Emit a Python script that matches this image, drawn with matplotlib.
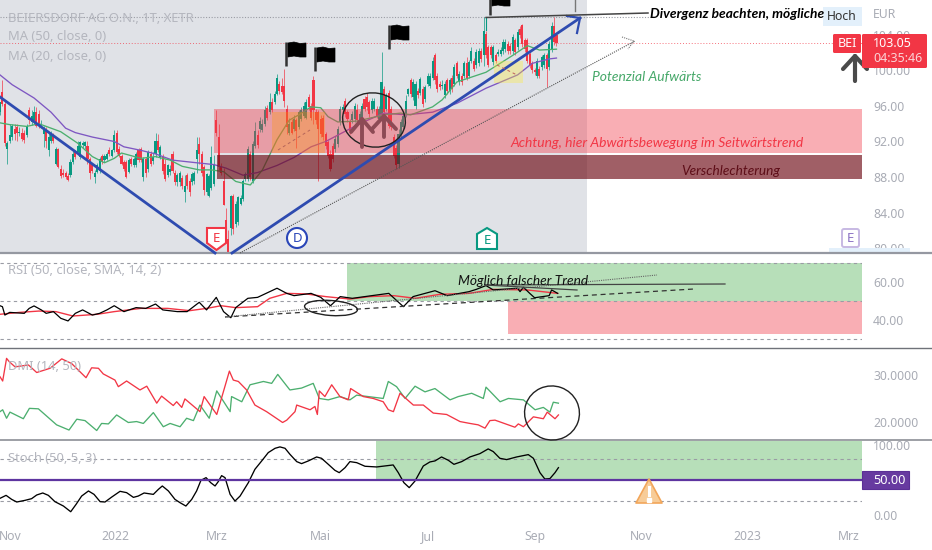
"""
Beiersdorf daily chart with RSI, DMI and Stoch panels and hand drawn markup.
"""
import numpy as np
import matplotlib
matplotlib.use("Agg")
import matplotlib.pyplot as plt
from matplotlib.patches import Ellipse, Polygon, Rectangle, FancyBboxPatch

WIDTH, HEIGHT = 932, 550
BAR_PX = 2.43           # pixels per trading day
PLOT_RIGHT = 862
GREY_RIGHT = 587

GREEN = "#089981"
RED = "#F23645"
TICK = "#A9ACB5"

opens = [
    95.3, 97.6, 96.2, 91.2, 92.0, 92.5, 93.4, 93.6, 93.0, 93.0,
    93.0, 92.7, 95.5, 94.2, 94.4, 95.3, 95.1, 93.9, 92.8, 93.3,
    91.0, 92.0, 92.7, 89.5, 91.2, 88.9, 88.4, 88.5, 88.1, 88.2,
    89.7, 90.8, 90.8, 90.3, 91.6, 91.5, 91.5, 90.0, 89.3, 88.0,
    88.6, 88.7, 90.4, 89.9, 90.0, 91.0, 90.4, 91.0, 93.0, 91.2,
    90.4, 89.7, 89.7, 88.6, 90.0, 89.3, 89.3, 91.0, 91.2, 88.0,
    90.0, 88.9, 90.6, 89.8, 90.6, 92.0, 90.2, 90.2, 89.5, 88.2,
    88.6, 90.6, 88.5, 87.4, 87.4, 87.9, 86.3, 88.2, 87.6, 87.4,
    87.5, 90.0, 91.7, 90.6, 89.1, 86.3, 85.9, 86.8, 87.2, 94.4,
    92.5, 89.1, 87.6, 83.1, 81.0, 82.3, 85.9, 82.7, 82.9, 85.0,
    85.5, 87.8, 87.8, 90.6, 87.6, 91.5, 92.7, 93.4, 93.3, 94.0,
    95.8, 95.3, 96.4, 96.4, 97.4, 98.5, 98.3, 98.3, 95.7, 93.0,
    94.2, 93.4, 94.4, 93.6, 94.5, 94.9, 94.7, 97.0, 96.0, 98.9,
    95.3, 95.3, 94.5, 94.7, 92.8, 91.9, 90.6, 91.5, 91.1, 91.7,
    94.2, 95.5, 96.6, 95.3, 94.2, 94.4, 94.5, 95.5, 94.4, 94.5,
    96.8, 97.0, 96.4, 95.5, 95.7, 95.7, 94.5, 94.7, 97.9, 95.7,
    97.5, 95.7, 92.5, 91.3, 89.5, 92.7, 93.6, 95.1, 97.4, 98.9,
    97.0, 96.0, 97.7, 97.5, 97.9, 96.8, 98.5, 98.3, 99.2, 101.7,
    99.4, 98.5, 98.2, 97.2, 98.9, 97.7, 99.2, 98.5, 100.8, 98.7,
    99.4, 99.4, 100.8, 99.4, 101.1, 101.1, 100.6, 100.8, 102.2, 101.7,
    104.1, 102.6, 102.6, 100.9, 101.7, 101.9, 101.9, 102.2, 102.4, 103.0,
    102.8, 102.2, 103.4, 102.6, 104.7, 105.1, 103.4, 103.4, 101.9, 100.8,
    100.0, 99.4, 100.2, 100.4, 100.6, 101.7, 100.4, 102.4, 105.0, 104.0]
closes = [
    96.4, 96.2, 91.8, 91.8, 92.7, 93.8, 92.9, 93.0, 93.1, 92.3,
    92.2, 93.8, 94.4, 94.9, 95.3, 93.8, 93.8, 94.0, 93.3, 92.1,
    92.5, 92.7, 92.0, 91.2, 89.1, 88.1, 88.2, 88.0, 87.7, 89.7,
    90.6, 90.2, 91.5, 91.9, 91.8, 91.9, 90.0, 88.4, 88.7, 88.5,
    89.3, 90.0, 89.7, 90.4, 90.6, 90.6, 91.0, 92.7, 90.8, 90.4,
    89.5, 88.9, 88.0, 89.9, 89.5, 90.0, 90.6, 89.9, 89.9, 90.0,
    88.4, 90.8, 89.5, 90.3, 92.1, 91.0, 91.4, 88.7, 87.8, 89.3,
    88.9, 88.7, 87.4, 88.2, 88.4, 87.0, 87.0, 87.0, 86.3, 88.3,
    88.4, 91.0, 90.6, 88.4, 86.5, 88.3, 88.1, 90.2, 89.5, 93.0,
    89.1, 88.4, 84.9, 82.3, 79.4, 85.9, 82.1, 85.0, 85.7, 85.6,
    87.6, 88.3, 91.2, 88.0, 91.7, 93.2, 91.6, 94.3, 94.0, 95.5,
    94.7, 96.4, 95.5, 97.4, 99.2, 97.7, 97.6, 96.6, 93.6, 94.0,
    93.0, 94.5, 93.2, 95.3, 95.5, 96.0, 96.4, 95.9, 94.7, 95.5,
    94.4, 93.4, 92.8, 92.5, 91.5, 90.4, 88.9, 90.0, 92.3, 93.4,
    95.7, 95.9, 95.1, 94.5, 93.2, 95.1, 96.0, 94.4, 95.1, 96.0,
    95.7, 95.9, 95.1, 96.6, 96.6, 94.9, 95.7, 98.7, 95.3, 97.2,
    93.8, 93.6, 90.4, 89.3, 92.8, 94.2, 94.9, 96.6, 97.9, 97.4,
    98.7, 98.5, 97.2, 99.0, 96.2, 98.1, 99.4, 99.4, 101.1, 98.9,
    97.9, 98.1, 98.4, 98.5, 97.7, 98.9, 97.9, 100.4, 99.4, 99.6,
    98.7, 100.8, 99.2, 100.9, 102.2, 100.2, 102.1, 102.2, 101.3, 104.5,
    101.7, 100.6, 101.7, 102.6, 101.1, 102.1, 102.3, 103.2, 103.2, 102.2,
    102.2, 103.8, 102.1, 104.3, 104.0, 103.0, 102.4, 101.1, 100.6, 100.0,
    99.8, 101.1, 99.4, 101.5, 101.7, 100.2, 103.0, 105.0, 103.2, 103.05]
highs = [
    96.5, 98.9, 96.6, 92.0, 94.0, 94.0, 94.0, 94.0, 93.6, 93.5,
    93.3, 94.0, 95.9, 95.5, 96.0, 95.9, 95.5, 94.4, 93.7, 93.6,
    93.0, 93.2, 93.0, 91.4, 91.3, 89.4, 88.9, 88.7, 88.4, 90.0,
    90.9, 91.0, 92.0, 92.1, 92.0, 92.0, 92.0, 90.3, 89.6, 88.8,
    89.6, 90.2, 90.6, 90.6, 90.8, 91.4, 91.2, 93.3, 93.3, 91.5,
    90.6, 89.9, 89.9, 90.1, 90.3, 90.2, 90.8, 91.3, 91.4, 90.2,
    90.2, 91.0, 90.9, 90.8, 93.0, 92.8, 91.6, 90.6, 90.0, 89.5,
    89.3, 90.9, 88.8, 88.5, 88.7, 88.2, 88.2, 88.4, 87.9, 88.6,
    88.7, 92.5, 92.5, 90.9, 89.4, 88.4, 88.3, 91.5, 90.5, 95.5,
    94.0, 89.6, 89.0, 84.5, 82.0, 86.0, 86.1, 85.3, 85.9, 86.0,
    87.8, 88.6, 91.5, 90.9, 92.0, 94.2, 93.3, 94.8, 94.5, 96.0,
    96.1, 97.5, 96.9, 97.7, 99.6, 98.8, 99.2, 100.2, 96.1, 94.6,
    94.5, 95.0, 94.7, 95.6, 95.9, 96.4, 96.8, 97.4, 96.3, 99.4,
    95.7, 95.6, 95.0, 95.0, 93.1, 92.2, 91.0, 91.8, 92.6, 93.7,
    96.0, 96.2, 96.9, 95.6, 94.5, 95.4, 96.3, 96.2, 95.4, 96.3,
    97.1, 97.5, 96.7, 96.9, 96.9, 96.0, 96.0, 102.1, 98.2, 97.5,
    97.8, 96.0, 92.8, 91.6, 93.4, 94.5, 95.2, 97.2, 98.0, 99.2,
    99.0, 98.8, 98.0, 99.3, 98.2, 98.4, 99.7, 99.7, 101.5, 102.0,
    99.7, 98.8, 98.9, 98.8, 99.2, 99.2, 99.5, 100.7, 101.1, 99.9,
    99.7, 101.1, 101.5, 101.2, 102.6, 101.4, 102.4, 102.5, 102.5, 106.0,
    104.4, 102.9, 102.9, 102.9, 102.0, 102.4, 102.6, 103.5, 103.5, 103.3,
    103.1, 104.1, 103.7, 104.7, 105.0, 105.2, 103.7, 103.7, 102.2, 101.1,
    100.3, 101.4, 100.5, 101.8, 102.0, 102.0, 103.3, 105.5, 106.0, 104.2]
lows = [
    95.0, 96.0, 91.5, 89.5, 91.8, 92.2, 92.2, 92.1, 92.6, 92.0,
    91.8, 92.5, 94.0, 93.9, 94.0, 93.6, 93.5, 93.5, 91.4, 91.3,
    90.4, 91.8, 91.8, 89.3, 89.0, 87.9, 88.0, 87.8, 87.6, 88.0,
    89.5, 90.0, 90.5, 90.0, 91.3, 91.2, 89.5, 87.8, 88.4, 87.3,
    88.4, 88.5, 89.5, 89.7, 89.9, 90.4, 90.2, 90.8, 90.6, 90.2,
    89.3, 88.7, 87.9, 88.4, 89.2, 89.1, 89.1, 89.7, 89.7, 87.6,
    88.0, 88.6, 89.2, 89.5, 90.3, 90.8, 90.0, 88.3, 87.5, 88.0,
    88.2, 88.4, 87.1, 87.0, 87.0, 86.6, 85.2, 86.7, 85.9, 87.1,
    87.2, 88.5, 89.5, 88.1, 86.0, 86.0, 85.7, 86.5, 87.0, 92.6,
    88.8, 88.2, 84.8, 80.7, 79.0, 81.5, 81.6, 82.4, 82.6, 84.8,
    85.3, 87.6, 87.6, 87.7, 87.3, 91.3, 91.3, 93.1, 93.1, 93.8,
    94.4, 95.1, 95.3, 96.2, 97.2, 97.4, 97.3, 95.9, 92.9, 92.7,
    92.8, 93.2, 91.3, 93.4, 94.3, 94.6, 94.5, 95.6, 94.4, 94.0,
    94.0, 87.6, 92.5, 92.2, 91.2, 90.1, 88.7, 89.7, 90.8, 91.4,
    93.9, 95.2, 94.8, 94.2, 92.9, 94.1, 94.2, 94.1, 94.1, 94.2,
    95.4, 95.6, 94.8, 95.2, 95.4, 94.6, 94.2, 94.4, 95.0, 95.4,
    93.5, 93.3, 90.1, 88.9, 89.0, 92.4, 93.3, 94.8, 97.1, 97.0,
    96.7, 95.7, 96.9, 97.2, 95.9, 96.5, 98.2, 98.0, 98.9, 98.5,
    97.6, 97.8, 97.9, 96.9, 97.4, 97.4, 97.6, 98.2, 99.1, 98.4,
    98.4, 99.1, 98.9, 99.1, 100.8, 99.9, 100.3, 100.5, 101.0, 100.5,
    101.4, 100.4, 101.4, 100.6, 100.8, 101.6, 101.6, 101.9, 102.1, 101.9,
    101.9, 101.9, 101.8, 102.3, 103.7, 102.7, 102.1, 100.8, 100.3, 99.7,
    99.5, 99.1, 99.1, 100.1, 100.3, 98.1, 100.1, 102.1, 102.9, 102.8]

ma50_bar = [0, 5, 14, 21, 27, 31, 38, 47, 51, 58, 64, 71, 81, 88, 93, 100, 106,
            114, 121, 128, 134, 141, 148, 158, 167, 178, 188, 200, 213, 219,
            226, 229]
ma50 = [99.5, 98.4, 96.9, 95.3, 93.5, 93.0, 92.5, 92.0, 91.4, 91.0, 90.6, 89.9,
        89.6, 89.4, 89.0, 88.2, 88.5, 89.3, 90.2, 91.4, 92.0, 93.0, 94.0, 95.2,
        95.0, 95.3, 96.3, 98.0, 99.5, 100.8, 101.3, 101.4]
ma20_bar = [0, 4, 11, 16, 21, 25, 32, 38, 43, 47, 50, 58, 64, 70, 75, 82, 87,
            92, 97, 103, 108, 114, 119, 123, 128, 132, 135, 139, 147, 158, 165,
            169, 178, 182, 188, 200, 211, 217, 222, 229]
ma20 = [94.1, 93.9, 93.7, 94.0, 93.5, 93.1, 91.8, 90.3, 89.6, 90.1, 90.7, 90.1,
        90.3, 89.9, 89.2, 88.8, 88.8, 88.6, 87.5, 87.1, 88.8, 92.2, 94.4, 95.0,
        95.9, 95.8, 94.8, 94.2, 94.3, 95.0, 95.2, 95.0, 95.9, 96.7, 98.7, 99.8,
        101.7, 102.8, 102.3, 102.4]

rsi_bar = [0, 1, 2, 4, 10, 12, 14, 17, 19, 22, 25, 28, 31, 34, 38, 41, 44, 47,
           51, 56, 60, 64, 67, 73, 77, 82, 85, 89, 92, 95, 97, 102, 106, 114,
           118, 121, 128, 132, 136, 140, 145, 153, 160, 163, 166, 170, 179,
           184, 193, 196, 200, 203, 213, 214, 215.4, 218, 220, 226, 227, 229.5]
rsi = [47.5, 47.0, 42.6, 44.0, 43.5, 46.1, 47.4, 45.3, 43.5, 44.4, 40.9, 39.5,
       43.5, 45.3, 42.6, 43.5, 45.3, 47.5, 44.4, 46.5, 46.1, 48.4, 45.3, 44.4,
       44.4, 49.3, 45.3, 51.9, 44.4, 41.2, 46.5, 51.4, 51.9, 56.7, 54.0, 52.8,
       54.0, 51.9, 47.5, 52.3, 51.4, 52.8, 54.0, 50.5, 47.0, 52.3, 55.4, 52.8,
       54.9, 56.1, 58.1, 55.8, 56.7, 54.9, 57.2, 54.0, 51.7, 52.8, 55.8, 54.0]
rsi_ma_bar = [0, 8, 16, 23, 30, 40, 47, 58, 69, 78, 85, 91, 97, 106, 111, 118,
              126, 134, 144, 152, 162, 171, 181, 193, 203, 217, 229.5]
rsi_ma = [43.0, 44.0, 44.7, 44.4, 42.1, 43.0, 44.4, 46.1, 46.1, 44.9, 46.1,
          47.5, 46.5, 47.0, 51.4, 54.0, 53.7, 52.3, 51.0, 52.3, 52.8, 51.4,
          53.5, 54.0, 56.1, 55.8, 54.0]

di_minus_bar = [0, 1.1, 2.7, 3.8, 6.2, 11.7, 15.1, 20.6, 24, 25.4, 29.5, 35.4,
                37.7, 40.5, 42.5, 47.3, 48.7, 52.1, 57.6, 60.4, 64.5, 66.5,
                71.3, 72.7, 74.8, 76.1, 82.3, 84, 89.2, 94.4, 96, 98.1, 101.5,
                104.9, 109.7, 116.3, 118, 121.4, 122.1, 127.6, 129.6, 130.6,
                131.4, 133.7, 136.5, 139.9, 143.3, 144.3, 149.5, 153.6, 157.7,
                159.8, 161.9, 164.6, 170.1, 174.2, 178.3, 183.8, 189.3, 193.4,
                196.8, 199.6, 201.6, 203.7, 211.9, 213.3, 215.4, 219.5, 223.6,
                225.2, 228.4, 229.8]
di_minus = [29.7, 28.8, 33.6, 32.9, 31.8, 32.2, 30.6, 31.5, 32.9, 33.5, 32.5,
            29.5, 31.6, 31.5, 30.3, 29.0, 27.6, 28.8, 26.9, 27.7, 24.1, 25.6,
            23.6, 24.4, 23.2, 25.0, 22.3, 25.5, 21.7, 30.9, 29.0, 28.7, 26.9,
            23.7, 22.3, 20.0, 20.5, 22.3, 23.7, 22.7, 23.4, 21.7, 26.7, 25.5,
            28.0, 25.5, 24.8, 27.2, 25.5, 25.1, 24.4, 22.7, 22.3, 26.2, 23.7,
            23.7, 22.0, 21.7, 20.2, 19.8, 19.5, 18.8, 20.4, 20.5, 19.0, 19.7,
            19.1, 21.2, 20.8, 22.2, 20.8, 21.6]
di_plus_bar = [0, 1.1, 2.7, 4.1, 9.6, 12.1, 15.8, 23.3, 28.4, 31.6, 35, 39.8,
               41.8, 44.6, 48, 52.8, 56.2, 59, 63.1, 67.2, 70, 74.1, 76.8,
               79.6, 82.3, 86.1, 89.2, 94.7, 95.3, 99.5, 102.9, 108.4, 111.8,
               114.3, 119.3, 124.1, 128.9, 131.4, 135.1, 139.9, 144, 146.8,
               157.7, 159.8, 163.2, 166.7, 170.8, 174.9, 179, 185.2, 188.6,
               194.1, 198.9, 200, 205.8, 209.2, 215.4, 220.2, 223.6, 226.3,
               227.7, 229.8]
di_plus = [22.3, 22.7, 20.9, 22.2, 20.8, 23.0, 22.9, 19.5, 18.4, 20.7, 20.4,
           18.3, 19.8, 19.7, 21.6, 20.0, 20.2, 19.8, 22.1, 19.1, 19.8, 19.1,
           20.9, 20.4, 23.7, 20.9, 26.7, 22.3, 25.5, 24.4, 28.0, 28.7, 28.3,
           30.2, 26.9, 27.3, 28.3, 25.1, 24.8, 25.5, 24.8, 25.8, 25.1, 28.7,
           27.6, 25.1, 27.7, 26.5, 27.2, 24.8, 25.5, 26.2, 25.1, 27.5, 24.4,
           25.1, 24.8, 22.7, 23.2, 22.2, 24.3, 24.1]

stoch_bar = [0, 2.5, 4.8, 6.9, 10.3, 13, 15.1, 17.6, 19.9, 22.6, 26.1, 29.1,
             31.3, 33.6, 36.4, 38.7, 41.2, 43.2, 46, 49.4, 52.1, 54.9, 56.9,
             59.3, 63.1, 65.2, 66.8, 69.3, 72, 74.1, 76.5, 78.9, 80.9, 82.7,
             84.8, 86.7, 88.5, 89.8, 91.2, 92.6, 94.7, 96.7, 98.8, 102.2,
             104.9, 107.7, 110.4, 113.2, 115.2, 117.3, 119.3, 122.1, 124.1,
             126.9, 130.3, 132.3, 135.1, 137.8, 139.6, 142, 144, 146.8, 150.2,
             155, 161.8, 163.9, 166.2, 168.4, 170.8, 174.2, 176.9, 179, 181.7,
             184.5, 186.8, 190, 193.4, 197.5, 200.9, 203, 205.7, 208.5, 212.6,
             217.4, 219.5, 222.2, 224.2, 226.3, 228.4, 229.8]
stoch = [23.3, 27.6, 21.8, 18.0, 20.4, 22.8, 28.1, 31.0, 27.6, 18.5, 12.2, 4.0,
         14.6, 26.6, 33.9, 29.0, 18.5, 18.0, 25.2, 33.4, 31.5, 24.7, 26.6, 31.0,
         29.0, 36.3, 41.1, 33.9, 21.8, 17.0, 12.2, 21.8, 33.9, 49.3, 53.1, 45.9,
         41.1, 47.3, 56.0, 53.1, 29.0, 19.4, 26.6, 45.9, 65.1, 77.2, 89.2, 95.4,
         97.4, 95.4, 86.8, 76.2, 73.3, 77.2, 82.9, 81.0, 72.3, 63.7, 60.3, 67.5,
         76.2, 74.7, 69.5, 68.5, 71.4, 60.3, 45.9, 38.7, 48.3, 69.9, 75.7, 77.2,
         82.9, 78.1, 72.3, 76.2, 82.9, 87.7, 94.5, 90.6, 81.0, 79.1, 82.9, 86.3,
         81.0, 60.3, 51.2, 51.7, 60.3, 67.5]

price_ticks = [84, 88, 92, 96, 100, 104, 80]
rsi_ticks = [40, 60]
dmi_ticks = [20, 30]
stoch_ticks = [0, 100]
month_labels = ["Nov", "2022", "Mrz", "Mai", "Jul", "Sep", "Nov", "2023", "Mrz"]
month_bars = [4.1, 47.3, 89.3, 131.7, 176, 220, 263.8, 307.4, 349.4]
price_last = 103.05

AXES_FONT = "Noto Sans"
NOTE_FONT = "Lato"


def panel(fig, top, bottom, ylim, ticks, fmt):
    """ one price pane, top and bottom are pixel rows of the figure
    """
    ax = fig.add_axes([0, 1 - bottom / HEIGHT, PLOT_RIGHT / WIDTH,
                       (bottom - top) / HEIGHT])
    ax.set_facecolor("none")
    ax.set_xlim(0, PLOT_RIGHT / BAR_PX)
    ax.set_ylim(*ylim)
    for spine in ax.spines.values():
        spine.set_visible(False)
    ax.yaxis.tick_right()
    ax.set_yticks(ticks)
    ax.set_yticklabels([fmt % t for t in ticks], family=AXES_FONT,
                       fontsize=8.8, color=TICK)
    ax.tick_params(axis="y", length=0, pad=8)
    ax.set_xticks([])
    return ax


def zone(ax, x0, low, high, color, alpha, x1=None, zorder=4):
    """ shaded box in data units
    """
    x1 = PLOT_RIGHT / BAR_PX if x1 is None else x1
    ax.add_patch(Rectangle((x0, low), x1 - x0, high - low, facecolor=color,
                           alpha=alpha, edgecolor="none", zorder=zorder))


def draw_candles(ax):
    """ wicks and bodies
    """
    bars = np.arange(len(closes))
    o, c = np.array(opens), np.array(closes)
    colors = [GREEN if up else RED for up in c >= o]
    ax.vlines(bars, lows, highs, colors=colors, linewidth=0.7, alpha=0.7,
              zorder=2)
    ax.bar(bars, np.maximum(np.abs(c - o), 0.12), bottom=np.minimum(o, c),
           width=0.85, color=colors, linewidth=0, zorder=2)


def flag(ov, x, top, pole=24, color="black"):
    """ flag marker from the drawing tools
    """
    ov.plot([x, x], [top, top + pole], color="#333333", lw=1.8, zorder=6,
            solid_capstyle="butt")
    ov.add_patch(Polygon(
        [(x + 2, top + 1), (x + 8, top), (x + 14, top + 1.5), (x + 20, top + 1),
         (x + 20, top + 15), (x + 14, top + 15), (x + 8, top + 14),
         (x + 2, top + 15)], closed=True, facecolor=color, edgecolor=color,
        lw=0.5, zorder=6))


def arrow_up(ov, x, bottom, top, spread, drop, color, lw):
    """ plain up arrow made of strokes
    """
    ov.plot([x, x], [bottom, top], color=color, lw=lw, zorder=6,
            solid_capstyle="round")
    ov.plot([x - spread, x, x + spread], [top + drop, top, top + drop],
            color=color, lw=lw, zorder=6, solid_capstyle="round")


def earnings_badge(ov, pts, cx, cy, edge, text_color, label):
    """ small white tag with a letter
    """
    ov.add_patch(Polygon(pts, closed=True, facecolor="white", edgecolor=edge,
                         lw=1.5, zorder=7))
    ov.text(cx, cy, label, color=text_color, fontsize=9.5, ha="center",
            va="center", family=AXES_FONT, zorder=8)


def note(ov, x, y, text, color, size=9.0, weight="normal", ha="left"):
    """ italic chart note
    """
    return ov.text(x, y, text, color=color, fontsize=size, style="italic",
                   weight=weight, family=NOTE_FONT, ha=ha, va="center",
                   zorder=9)


def draw_overlay(fig):
    """ everything drawn by hand over the panes, in figure pixels
    """
    ov = fig.add_axes([0, 0, 1, 1], zorder=10)
    ov.set_xlim(0, WIDTH)
    ov.set_ylim(HEIGHT, 0)
    ov.axis("off")

    # pane separators
    ov.add_patch(Rectangle((PLOT_RIGHT, 249), 70, 12, facecolor="white",
                           edgecolor="none", zorder=1))
    ov.add_patch(Rectangle((829, 248), 81, 4, facecolor="#E3F0FB",
                           edgecolor="none", zorder=1))
    ov.plot([0, WIDTH], [253, 253], color="#9598A1", lw=1.6, zorder=2)
    ov.plot([0, WIDTH], [347.5, 347.5], color="#6F7279", lw=1.0, zorder=2)
    ov.plot([0, WIDTH], [439.5, 439.5], color="#8C8F96", lw=1.2, zorder=2)

    # pane titles
    grey = "#B4B6BE"
    ov.text(8, 18, "BEIERSDORF AG O.N., 1T, XETR", color=grey, fontsize=9.3,
            weight="bold", family=AXES_FONT, va="center", zorder=5)
    ov.text(8, 37, "MA (50, close, 0)", color=grey, fontsize=9.3,
            family=AXES_FONT, va="center", zorder=5)
    ov.text(8, 56, "MA (20, close, 0)", color=grey, fontsize=9.3,
            family=AXES_FONT, va="center", zorder=5)
    ov.text(8, 271, "RSI (50, close, SMA, 14, 2)", color=grey, fontsize=9.3,
            family=AXES_FONT, va="center", zorder=5)
    ov.text(8, 366, "DMI (14, 50)", color=grey, fontsize=9.3,
            family=AXES_FONT, va="center", zorder=5)
    ov.text(8, 458, "Stoch (50, 5, 3)", color=grey, fontsize=9.3,
            family=AXES_FONT, va="center", zorder=5)

    # trend lines
    blue = "#2E4BB0"
    ov.plot([0, 215], [97, 253], color=blue, lw=2.0, zorder=5)
    ov.plot([232, 580], [253, 18], color=blue, lw=2.0, zorder=5)
    ov.plot([567, 580, 577], [16, 18, 33], color=blue, lw=1.6, zorder=5)
    ov.plot([240, 635], [253, 41], color="#555555", lw=0.8, ls=(0, (1, 1)),
            zorder=5)
    ov.plot([622, 634, 628], [37, 41, 49], color="#777777", lw=0.8,
            ls=(0, (1, 1)), zorder=5)
    ov.plot([486, 648], [17.5, 13], color="#444444", lw=1.1, zorder=5)
    ov.plot([486, 486], [17, 30], color=GREEN, lw=0.8, zorder=1)
    ov.plot([575, 575], [0, 11], color="#777777", lw=1.0, zorder=5)
    ov.plot([278, 310], [150, 130], color="#B5655A", lw=0.7, ls=(0, (3, 3)),
            zorder=5)
    ov.plot([497, 517], [65, 75], color="#C0605A", lw=0.7, ls=(0, (3, 3)),
            zorder=5)

    flag(ov, 286, 42)
    flag(ov, 315, 47)
    flag(ov, 389, 25)
    flag(ov, 490, -9)

    # circles
    ov.add_patch(Ellipse((374, 120), 63, 54, angle=10, facecolor="none",
                         edgecolor="#222222", lw=1.0, zorder=6))
    ov.add_patch(Ellipse((331, 308), 53, 15, angle=4, facecolor="none",
                         edgecolor="#222222", lw=1.0, zorder=6))
    ov.add_patch(Ellipse((552, 413), 55, 54, angle=20, facecolor="none",
                         edgecolor="#222222", lw=1.0, zorder=6))

    arrow_up(ov, 362, 147, 119, 11, 13, "#8D4A55", 2.8)
    arrow_up(ov, 384, 137, 116, 12, 13, "#8D4A55", 2.8)
    arrow_up(ov, 855, 81, 56, 12, 13, "#4A4A4A", 3.0)

    # earnings tags
    earnings_badge(ov, [(207, 228), (226, 228), (226, 243), (216.5, 250),
                        (207, 243)], 216.5, 238, RED, RED, "E")
    ov.add_patch(Ellipse((297, 238), 20, 20, facecolor="white",
                         edgecolor="#2A46B8", lw=1.5, zorder=7))
    ov.text(297, 238, "D", color="#2A46B8", fontsize=9.5, ha="center",
            va="center", family=AXES_FONT, zorder=8)
    earnings_badge(ov, [(487, 228), (497, 234), (497, 249), (477, 249),
                        (477, 234)], 487, 240, GREEN, GREEN, "E")
    ov.add_patch(FancyBboxPatch((842, 229), 17, 18,
                                boxstyle="round,pad=0,rounding_size=2",
                                facecolor="white", edgecolor="#C7B9E3", lw=1.4,
                                zorder=7))
    ov.text(850.5, 238, "E", color="#8C74C4", fontsize=9.5, ha="center",
            va="center", family=AXES_FONT, zorder=8)

    # notes
    note(ov, 592, 77, "Potenzial Aufwärts", "#46A869", 10.0)
    note(ov, 510, 143, "Achtung, hier Abwärtsbewegung im Seitwärtstrend", RED,
         10.0)
    note(ov, 681, 171, "Verschlechterung", "#5E0E18", 9.8)
    note(ov, 650, 14, "Divergenz beachten, mögliche", "black", 9.9, "bold")
    note(ov, 458, 281, "Möglich falscher Trend", "#111111", 9.9)

    # rsi drawings
    ov.plot([225, 694], [317, 289], color="#333333", lw=0.9, ls=(0, (4, 3)),
            zorder=5)
    ov.plot([225, 657], [317, 275], color="#666666", lw=0.8, ls=(0, (1, 1)),
            zorder=5)
    ov.plot([485, 725], [285, 284], color="#444444", lw=0.9, zorder=5)
    ov.plot([485, 577], [285, 290], color="#444444", lw=0.9, zorder=5)

    # price labels
    ov.add_patch(Rectangle((823, 7), 39, 19, facecolor="#E3F0FB",
                           edgecolor="none", zorder=8))
    ov.text(842, 17, "Hoch", color="#333333", fontsize=8.8, family=AXES_FONT,
            ha="center", va="center", zorder=9)
    ov.text(873, 14, "EUR", color=TICK, fontsize=8.8, family=AXES_FONT,
            va="center", zorder=9)
    ov.add_patch(FancyBboxPatch((833, 34), 28, 19,
                                boxstyle="round,pad=0,rounding_size=1.5",
                                facecolor=RED, edgecolor="none", zorder=8))
    ov.text(847, 43.5, "BEI", color="white", fontsize=9, family=AXES_FONT,
            weight="medium", ha="center", va="center", zorder=9)
    ov.add_patch(FancyBboxPatch((862, 34), 65, 34,
                                boxstyle="round,pad=0,rounding_size=1.5",
                                facecolor=RED, edgecolor="none", zorder=8))
    ov.text(873, 43.5, "%.2f" % price_last, color="white", fontsize=9,
            family=AXES_FONT, weight="medium", va="center", zorder=9)
    ov.text(873, 59, "04:35:46", color="#FBD3D6", fontsize=9, family=AXES_FONT,
            va="center", zorder=9)

    ov.add_patch(Rectangle((862, 471), 47, 18, facecolor="#673AA0",
                           edgecolor="#5B2F96", lw=0.8, zorder=8))
    ov.text(873, 480.5, "50.00", color="white", fontsize=9.2, weight="bold",
            family=AXES_FONT, va="center", zorder=9)

    # warning sign
    ov.add_patch(Polygon([(649, 479), (662, 503), (636, 503)], closed=True,
                         facecolor="#F7CC98", edgecolor="#F2A65A", lw=1.2,
                         joinstyle="round", zorder=8))
    ov.plot([649, 649], [487, 495], color="white", lw=2.2, zorder=9)
    ov.plot([649], [499.5], "s", color="white", ms=2.2, zorder=9)
    return ov


def main():
    """ main
    """
    plt.rcParams["font.family"] = [AXES_FONT, "DejaVu Sans"]
    fig = plt.figure(figsize=(WIDTH / 100, HEIGHT / 100), dpi=100,
                     facecolor="white")

    ax_price = panel(fig, 0, 252, (79.55, 107.94), price_ticks, "%.2f")
    ax_rsi = panel(fig, 254, 347, (25.8, 74.7), rsi_ticks, "%.2f")
    ax_dmi = panel(fig, 348, 439, (16.5, 35.8), dmi_ticks, "%.4f")
    ax_stoch = panel(fig, 441, 522, (-10.8, 105.9), stoch_ticks, "%.2f")

    # price pane
    ax_price.axvspan(0, GREY_RIGHT / BAR_PX, color="#E0E2E7", lw=0, zorder=0)
    ax_price.axhline(106.05, xmax=655 / PLOT_RIGHT, color="#9A9CA4", lw=0.8,
                     ls=(0, (1, 1.5)), zorder=1)
    ax_price.axhline(price_last, color=RED, lw=0.7, ls=(0, (1, 2)), alpha=0.7,
                     zorder=1)
    draw_candles(ax_price)
    ax_price.plot(ma50_bar, ma50, color="#7E57C2", lw=0.95, zorder=3)
    ax_price.plot(ma20_bar, ma20, color="#4CAF6F", lw=0.95, zorder=3)
    zone(ax_price, 88.1, 90.65, 95.66, RED, 0.40)
    zone(ax_price, 89.1, 87.77, 90.48, "#6E0A14", 0.65)
    zone(ax_price, 111.9, 90.65, 95.36, "#FF9800", 0.30, x1=133.7)
    zone(ax_price, 203.3, 98.63, 101.1, "#FFEB3B", 0.35, x1=215.2)

    # rsi pane
    zone(ax_rsi, 142.7, 50, 69.8, "#4CAF50", 0.40, zorder=1)
    zone(ax_rsi, 209, 32.6, 50, RED, 0.40, zorder=1)
    for level in (70, 50, 30):
        ax_rsi.axhline(level, color="#9A9CA4", lw=0.8, ls=(0, (3, 3)), zorder=1)
    ax_rsi.plot(rsi_bar, rsi, color="black", lw=0.9, zorder=3)
    ax_rsi.plot(rsi_ma_bar, rsi_ma, color=RED, lw=1.0, zorder=2)

    # dmi pane
    ax_dmi.plot(di_plus_bar, di_plus, color="#4CAF6F", lw=0.95, zorder=3)
    ax_dmi.plot(di_minus_bar, di_minus, color=RED, lw=0.95, zorder=3)

    # stoch pane
    zone(ax_stoch, 154.7, 50, 105.2, "#4CAF50", 0.40, zorder=1)
    for level in (80, 20):
        ax_stoch.axhline(level, color="#9A9CA4", lw=0.8, ls=(0, (3, 3)),
                         zorder=1)
    ax_stoch.axhline(50, color="#5E35A0", lw=1.6, zorder=4)
    ax_stoch.plot(stoch_bar, stoch, color="black", lw=0.95, zorder=3,
                  solid_joinstyle="round")
    ax_stoch.set_xticks(month_bars)
    ax_stoch.set_xticklabels(month_labels, family=AXES_FONT, fontsize=8.8,
                             color=TICK)
    ax_stoch.tick_params(axis="x", length=0, pad=5.5)

    draw_overlay(fig)
    fig.savefig("out.png", dpi=100, facecolor="white")
    plt.close(fig)


if __name__ == '__main__':
    main()
